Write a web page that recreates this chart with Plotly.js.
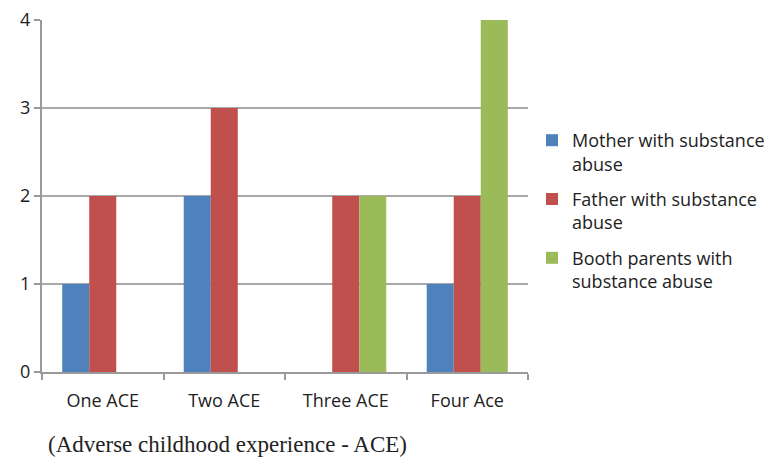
<!DOCTYPE html>
<html><head><meta charset="utf-8">
<script src="https://cdn.plot.ly/plotly-3.0.1.min.js"></script>
<style>body{margin:0;background:#fff}#chart{width:770px;height:459px}</style>
</head><body><div id="chart"></div>
<script>
const categories = ["One ACE", "Two ACE", "Three ACE", "Four Ace"];
const mother = [1, 2, 0, 1];
const father = [2, 3, 2, 2];
const both = [0, 0, 2, 4];
const seriesNames = ["Mother with substance<br>abuse", "Father with substance<br>abuse", "Booth parents with<br>substance abuse"];
const yTicks = [0, 1, 2, 3, 4];
const caption = "(Adverse childhood experience - ACE)";

const colors = ["#4F81BD", "#C0504D", "#9BBB59"];
const data = [mother, father, both].map((v, i) => ({
  type: "bar", x: categories, y: v, name: seriesNames[i], legendgroup: "g" + i,
  marker: {color: colors[i], line: {width: 0}}
}));
const font = {family: "Open Sans, sans-serif", size: 18, color: "#222"};
const layout = {
  width: 770, height: 459,
  margin: {l: 42, r: 242, t: 20, b: 87},
  paper_bgcolor: "#fff", plot_bgcolor: "#fff",
  barmode: "group", bargap: 0.333, bargroupgap: 0,
  font: font,
  showlegend: true,
  legend: {xref: "container", yref: "container", x: 532/770, xanchor: "left", y: 1 - 122/459, yanchor: "top",
           font: font, bgcolor: "rgba(0,0,0,0)", tracegroupgap: 9, itemwidth: 30, valign: "top"},
  xaxis: {
    showgrid: false, showline: true, linecolor: "#9a9a9a", linewidth: 2,
    ticks: "outside", tickson: "boundaries", ticklen: 6, tickcolor: "#9a9a9a", tickwidth: 2,
    tickfont: font, ticklabelstandoff: 11, fixedrange: true
  },
  yaxis: {
    range: [0, 4], tickvals: yTicks, showgrid: true, gridcolor: "#a8a8a8", gridwidth: 2,
    showline: true, linecolor: "#9a9a9a", linewidth: 2, zeroline: false,
    ticks: "outside", ticklen: 6, tickcolor: "#9a9a9a", tickwidth: 2,
    tickfont: font, fixedrange: true
  },
  annotations: [{
    text: caption, xref: "paper", yref: "paper", x: 0.008, y: -0.205,
    xanchor: "left", yanchor: "middle", showarrow: false,
    font: {family: "Liberation Serif, serif", size: 23, color: "#222"}
  }]
};
Plotly.newPlot("chart", data, layout, {displayModeBar: false, staticPlot: true});
</script></body></html>
